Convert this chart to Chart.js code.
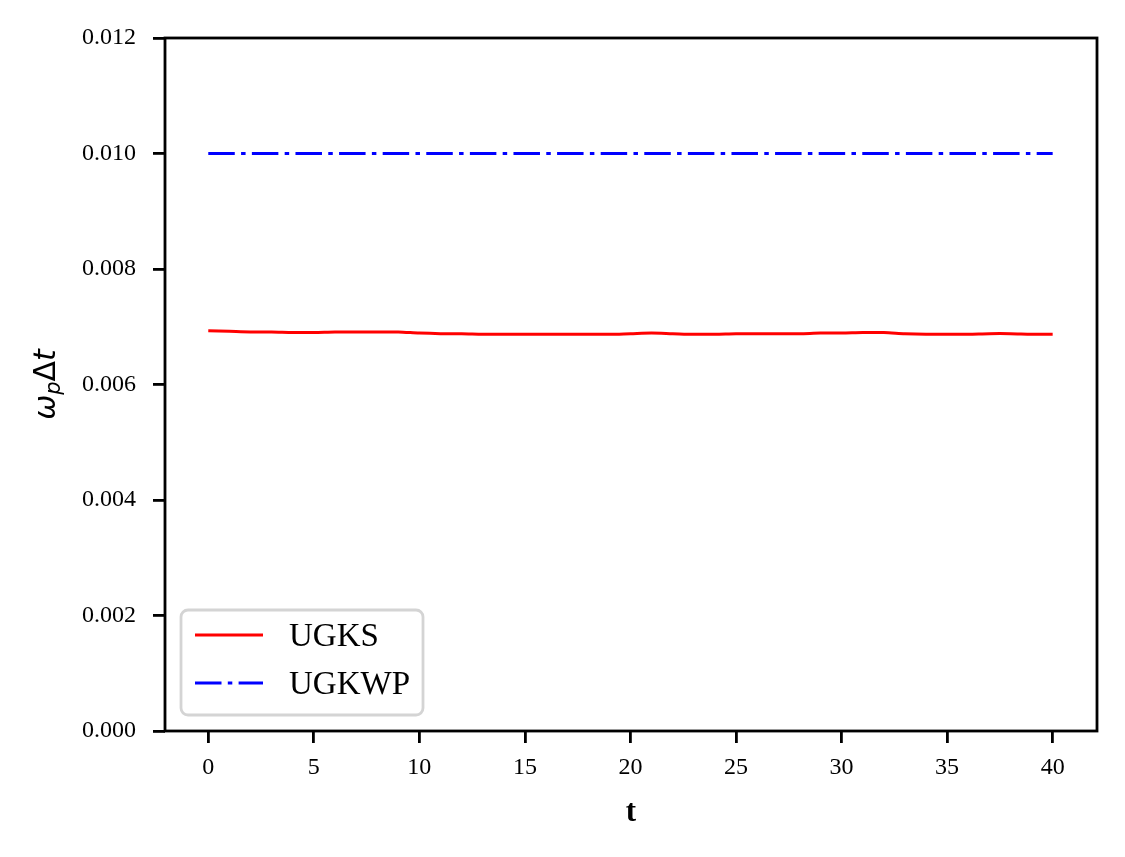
<!DOCTYPE html>
<html>
<head>
<meta charset="utf-8">
<script src="https://cdn.jsdelivr.net/npm/chart.js@4"></script>
<style>
  html, body { margin: 0; padding: 0; background: #fff; }
  #wrap { width: 1125px; height: 857px; position: relative; }
</style>
</head>
<body>
<div id="wrap"><canvas id="chartCanvas"></canvas></div>
<script>
// time samples and values
const tValues = [0, 1, 2, 3, 4, 5, 6, 7, 8, 9, 10, 11, 12, 13, 14, 15, 16, 17, 18, 19, 20,
  21, 22, 23, 24, 25, 26, 27, 28, 29, 30, 31, 32, 33, 34, 35, 36, 37, 38, 39, 40];
const ugks = [0.00693, 0.00692, 0.00691, 0.00691, 0.00690, 0.00690, 0.00691, 0.00691, 0.00691, 0.00691,
  0.00689, 0.00688, 0.00688, 0.00687, 0.00687, 0.00687, 0.00687, 0.00687, 0.00687, 0.00687,
  0.00688, 0.00689, 0.00688, 0.00687, 0.00687, 0.00688, 0.00688, 0.00688, 0.00688, 0.00689,
  0.00689, 0.00690, 0.00690, 0.00688, 0.00687, 0.00687, 0.00687, 0.00688, 0.00688, 0.00687, 0.00687];
const ugkwpT = [0, 40];
const ugkwp = [0.010, 0.010];

const xTicks = [0, 5, 10, 15, 20, 25, 30, 35, 40];
const yTicks = [0, 0.002, 0.004, 0.006, 0.008, 0.010, 0.012];

const serif = '"Liberation Serif", "Times New Roman", serif';
const blueDash = [26.5, 6.3, 4.5, 6.3];

// axes frame, legend and y label (mathtext style)
const extras = {
  id: 'extras',
  afterDraw(chart) {
    const ctx = chart.ctx;
    const a = chart.chartArea;
    ctx.save();
    ctx.strokeStyle = '#000';
    ctx.lineWidth = 2.8;
    ctx.strokeRect(a.left, a.top, a.right - a.left, a.bottom - a.top);

    // legend box
    const bx = 181, by = 610, bw = 242, bh = 105, r = 7;
    ctx.beginPath();
    ctx.moveTo(bx + r, by);
    ctx.arcTo(bx + bw, by, bx + bw, by + bh, r);
    ctx.arcTo(bx + bw, by + bh, bx, by + bh, r);
    ctx.arcTo(bx, by + bh, bx, by, r);
    ctx.arcTo(bx, by, bx + bw, by, r);
    ctx.closePath();
    ctx.fillStyle = 'rgba(255,255,255,0.8)';
    ctx.fill();
    ctx.strokeStyle = '#d4d4d4';
    ctx.lineWidth = 2.8;
    ctx.stroke();

    const rows = [635, 683];
    chart.data.datasets.forEach((ds, i) => {
      const y = rows[i];
      ctx.beginPath();
      ctx.strokeStyle = ds.borderColor;
      ctx.lineWidth = ds.borderWidth;
      ctx.setLineDash(ds.borderDash || []);
      ctx.moveTo(195, y);
      ctx.lineTo(263, y);
      ctx.stroke();
      ctx.setLineDash([]);
      ctx.fillStyle = '#000';
      ctx.font = '33px ' + serif;
      ctx.textBaseline = 'middle';
      ctx.textAlign = 'left';
      ctx.fillText(ds.label, 289, y + 2);
    });

    // y label: omega_p Delta t
    ctx.translate(45, (a.top + a.bottom) / 2);
    ctx.rotate(-Math.PI / 2);
    ctx.fillStyle = '#000';
    ctx.textBaseline = 'alphabetic';
    const big = 'oblique 30px "DejaVu Sans"';
    const small = 'oblique 21px "DejaVu Sans"';
    const parts = [
      { t: '\u03c9', f: big, dy: 0 },
      { t: 'p', f: small, dy: 5 },
      { t: '\u0394', f: '30px "DejaVu Sans"', dy: 0 },
      { t: 't', f: big, dy: 0 }
    ];
    let w = 0;
    parts.forEach(p => { ctx.font = p.f; w += ctx.measureText(p.t).width; });
    let x = -w / 2;
    parts.forEach(p => {
      ctx.font = p.f;
      ctx.fillText(p.t, x, 10 + p.dy);
      x += ctx.measureText(p.t).width;
    });
    ctx.restore();
  }
};

const ctx = document.getElementById('chartCanvas').getContext('2d');
new Chart(ctx, {
  type: 'line',
  data: {
    datasets: [{
      label: 'UGKS',
      data: tValues.map((t, i) => ({ x: t, y: ugks[i] })),
      borderColor: '#ff0000',
      borderWidth: 3,
      pointRadius: 0,
      tension: 0.3,
      fill: false
    }, {
      label: 'UGKWP',
      data: ugkwpT.map((t, i) => ({ x: t, y: ugkwp[i] })),
      borderColor: '#0000ff',
      borderWidth: 3,
      borderDash: blueDash,
      borderCapStyle: 'butt',
      pointRadius: 0,
      fill: false
    }]
  },
  plugins: [extras],
  options: {
    responsive: true,
    maintainAspectRatio: false,
    animation: false,
    devicePixelRatio: 1,
    layout: { padding: { left: 0, right: 28, top: 38, bottom: 0 } },
    plugins: {
      legend: { display: false },
      tooltip: { enabled: false }
    },
    scales: {
      x: {
        type: 'linear',
        min: -2.05,
        max: 42.1,
        afterBuildTicks: s => { s.ticks = xTicks.map(v => ({ value: v })); },
        afterFit: s => { s.height = 126; },
        border: { display: false },
        grid: { display: true, drawOnChartArea: false, drawTicks: true, tickLength: 12, color: '#000', lineWidth: 2.8 },
        ticks: { color: '#000', font: { family: serif, size: 24 }, padding: 10, maxRotation: 0 },
        title: { display: true, text: 't', color: '#000', font: { family: serif, size: 31, weight: 'bold' }, padding: { top: 0, bottom: 25 } }
      },
      y: {
        type: 'linear',
        min: 0,
        max: 0.012,
        afterBuildTicks: s => { s.ticks = yTicks.map(v => ({ value: v })); },
        afterFit: s => { s.width = 165; },
        border: { display: false },
        grid: { display: true, drawOnChartArea: false, drawTicks: true, tickLength: 12, color: '#000', lineWidth: 2.8 },
        ticks: { color: '#000', font: { family: serif, size: 24 }, padding: 17, callback: v => v.toFixed(3) }
      }
    }
  }
});
</script>
</body>
</html>
